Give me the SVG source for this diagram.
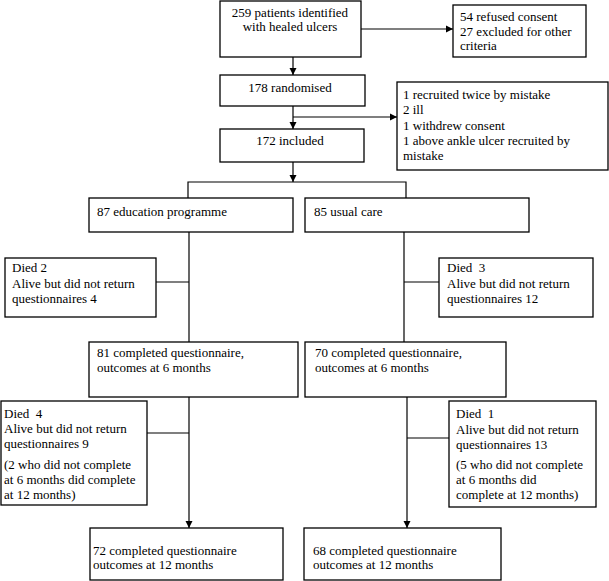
<svg xmlns="http://www.w3.org/2000/svg" width="609" height="581" viewBox="0 0 609 581" font-family="'Liberation Serif', 'Times New Roman', 'DejaVu Serif', serif" font-size="13">
<style>
.box{fill:#fff;stroke:#000;stroke-width:1.3}
.ln{fill:none;stroke:#000;stroke-width:1.2}
text{font-family:'Liberation Serif','Times New Roman','DejaVu Serif',serif;font-size:13px;fill:#000}
.c{text-anchor:middle}
</style>
<defs>
<marker id="ah" markerWidth="8" markerHeight="8" refX="7" refY="4" orient="auto" markerUnits="userSpaceOnUse">
<path d="M0,0.5 L7,4 L0,7.5 Z" fill="#000"/>
</marker>
</defs>
<rect width="609" height="581" fill="#fff"/>
<g id="connectors">
<path class="ln" d="M361,29 H453" marker-end="url(#ah)"/>
<path class="ln" d="M293,57 V75" marker-end="url(#ah)"/>
<path class="ln" d="M293,106 V129" marker-end="url(#ah)"/>
<path class="ln" d="M293,117 H397" marker-end="url(#ah)"/>
<path class="ln" d="M293,162 V182" marker-end="url(#ah)"/>
<path class="ln" d="M188,198 V182 H406 V198"/>
<path class="ln" d="M189,232 V342"/>
<path class="ln" d="M156,282 H189"/>
<path class="ln" d="M404,232 V342"/>
<path class="ln" d="M404,282 H439"/>
<path class="ln" d="M189,397 V528" marker-end="url(#ah)"/>
<path class="ln" d="M147,433 H189"/>
<path class="ln" d="M407,397 V528" marker-end="url(#ah)"/>
<path class="ln" d="M407,438 H449"/>
</g>
<g id="n1">
<rect class="box" x="220" y="1" width="141" height="56"/>
<text class="c" x="290" y="17">259 patients identified</text>
<text class="c" x="290" y="31">with healed ulcers</text>
</g>
<g id="n2">
<rect class="box" x="453" y="5" width="133" height="52"/>
<text x="460" y="21">54 refused consent</text>
<text x="460" y="36">27 excluded for other</text>
<text x="460" y="50">criteria</text>
</g>
<g id="n3">
<rect class="box" x="220" y="75" width="145" height="31"/>
<text class="c" x="290" y="92">178 randomised</text>
</g>
<g id="n4">
<rect class="box" x="397" y="82" width="211" height="88"/>
<text x="403" y="99">1 recruited twice by mistake</text>
<text x="403" y="114">2 ill</text>
<text x="403" y="130">1 withdrew consent</text>
<text x="403" y="145">1 above ankle ulcer recruited by</text>
<text x="403" y="160">mistake</text>
</g>
<g id="n5">
<rect class="box" x="220" y="129" width="144" height="33"/>
<text class="c" x="290" y="145">172 included</text>
</g>
<g id="n6">
<rect class="box" x="89" y="198" width="204" height="34"/>
<text x="97" y="216">87 education programme</text>
</g>
<g id="n7">
<rect class="box" x="305" y="198" width="224" height="34"/>
<text x="314" y="216">85 usual care</text>
</g>
<g id="n8">
<rect class="box" x="5" y="258" width="151" height="59"/>
<text x="12" y="272">Died 2</text>
<text x="12" y="288">Alive but did not return</text>
<text x="12" y="303">questionnaires 4</text>
</g>
<g id="n9">
<rect class="box" x="439" y="258" width="154" height="59"/>
<text x="447" y="272" xml:space="preserve">Died  3</text>
<text x="447" y="288">Alive but did not return</text>
<text x="447" y="303">questionnaires 12</text>
</g>
<g id="n10">
<rect class="box" x="89" y="342" width="209" height="55"/>
<text x="97" y="357">81 completed questionnaire,</text>
<text x="97" y="372">outcomes at 6 months</text>
</g>
<g id="n11">
<rect class="box" x="305" y="342" width="201" height="55"/>
<text x="315" y="357">70 completed questionnaire,</text>
<text x="315" y="372">outcomes at 6 months</text>
</g>
<g id="n12">
<rect class="box" x="1" y="401" width="146" height="104"/>
<text x="4" y="418" xml:space="preserve">Died  4</text>
<text x="4" y="433">Alive but did not return</text>
<text x="4" y="448">questionnaires 9</text>
<text x="4" y="469">(2 who did not complete</text>
<text x="4" y="484">at 6 months did complete</text>
<text x="4" y="499">at 12 months)</text>
</g>
<g id="n13">
<rect class="box" x="449" y="401" width="147" height="106"/>
<text x="456" y="418" xml:space="preserve">Died  1</text>
<text x="456" y="434">Alive but did not return</text>
<text x="456" y="449">questionnaires 13</text>
<text x="456" y="469">(5 who did not complete</text>
<text x="456" y="484">at 6 months did</text>
<text x="456" y="499">complete at 12 months)</text>
</g>
<g id="n14">
<rect class="box" x="90" y="528" width="193" height="52"/>
<text x="93" y="555">72 completed questionnaire</text>
<text x="93" y="569">outcomes at 12 months</text>
</g>
<g id="n15">
<rect class="box" x="304" y="528" width="197" height="52"/>
<text x="313" y="555">68 completed questionnaire</text>
<text x="313" y="569">outcomes at 12 months</text>
</g>
</svg>
